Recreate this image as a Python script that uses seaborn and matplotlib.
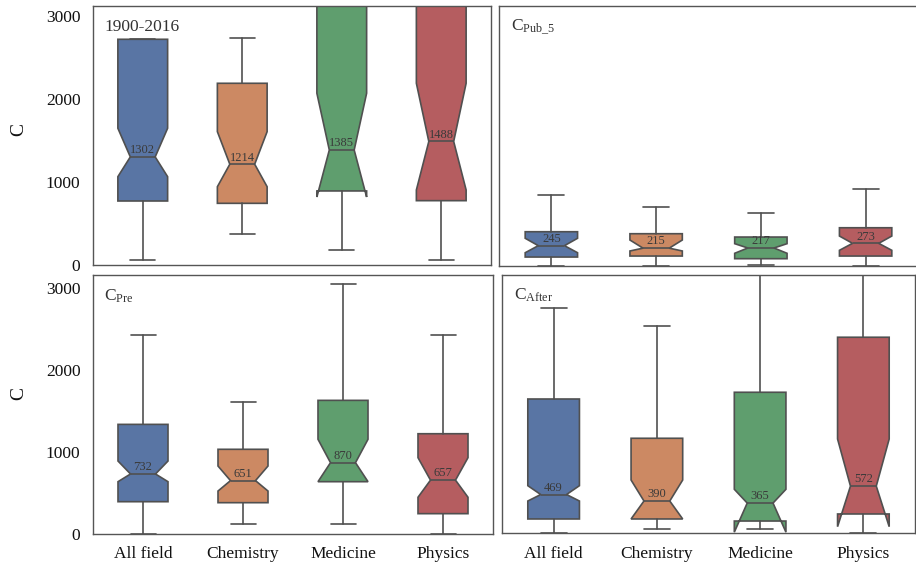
import matplotlib
matplotlib.use("Agg")
import matplotlib.pyplot as plt
import seaborn as sns

fields = ["All field", "Chemistry", "Medicine", "Physics"]

# Citations over the whole period 1900-2016
total_med = [1302, 1214, 1385, 1488]
total_q1 = [771, 743, 892, 775]
total_q3 = [2719, 2189, 3600, 3600]
total_cilo = [1064, 943, 819, 904]
total_cihi = [1647, 1606, 2069, 2189]
total_wlo = [60, 370, 181, 60]
total_whi = [2719, 2739, 5000, 5000]

# Citations within five years of publication
pub5_med = [245, 215, 217, 273]
pub5_q1 = [108, 120, 88, 120]
pub5_q3 = [413, 389, 349, 461]
pub5_cilo = [160, 181, 153, 189]
pub5_cihi = [334, 313, 269, 361]
pub5_wlo = [0, 0, 10, 0]
pub5_whi = [855, 711, 639, 931]

# Citations before the prize
pre_med = [732, 651, 870, 657]
pre_q1 = [394, 382, 638, 248]
pre_q3 = [1337, 1033, 1630, 1223]
pre_cilo = [638, 524, 638, 448]
pre_cihi = [890, 829, 1155, 931]
pre_wlo = [0, 118, 118, 0]
pre_whi = [2427, 1610, 3049, 2427]

# Citations after the prize
after_med = [469, 390, 365, 572]
after_q1 = [171, 171, 146, 232]
after_q3 = [1634, 1155, 1716, 2387]
after_cilo = [390, 171, 10, 77]
after_cihi = [577, 646, 533, 1146]
after_wlo = [0, 45, 45, 0]
after_whi = [2740, 2528, 5000, 5000]

sns.set_theme(style="white")
plt.rcParams["font.family"] = ["Liberation Serif", "DejaVu Serif"]
plt.rcParams["mathtext.fontset"] = "custom"
plt.rcParams["mathtext.rm"] = "Liberation Serif"
plt.rcParams["mathtext.it"] = "Liberation Serif:italic"

palette = [sns.desaturate(c, 0.75) for c in sns.color_palette("deep", 4)]

W, H = 916, 567
fig = plt.figure(figsize=(W / 100, H / 100), dpi=100)
fig.patch.set_facecolor("white")


def make_axes(left, top, right, bottom):
    return fig.add_axes([left / W, (H - bottom) / H, (right - left) / W, (bottom - top) / H])


edge = "#505050"


def draw_panel(ax, med, q1, q3, cilo, cihi, wlo, whi, ytop, title):
    stats = []
    for i, name in enumerate(fields):
        stats.append(dict(label=name, med=med[i], q1=q1[i], q3=q3[i],
                          cilo=cilo[i], cihi=cihi[i],
                          whislo=wlo[i], whishi=whi[i], fliers=[]))
    bp = ax.bxp(stats, positions=range(len(fields)), widths=0.5,
                patch_artist=True, shownotches=True, showfliers=False,
                boxprops=dict(edgecolor=edge, linewidth=1.2),
                whiskerprops=dict(color=edge, linewidth=1.2),
                capprops=dict(color=edge, linewidth=1.2),
                medianprops=dict(color=edge, linewidth=1.2))
    for patch, col in zip(bp["boxes"], palette):
        patch.set_facecolor(col)
    for i, m in enumerate(med):
        ax.annotate(f"{m}", xy=(i, m), xytext=(0, 0.5), textcoords="offset points",
                    ha="center", va="bottom", fontsize=9, color="#3a3a3a")
    ax.set_xlim(-0.5, len(fields) - 0.5)
    ax.set_ylim(0, ytop)
    ax.set_yticks([0, 1000, 2000, 3000])
    ax.tick_params(axis="both", length=0, labelsize=12.5, colors="#111111", pad=9)
    for sp in ax.spines.values():
        sp.set_color("#555555")
        sp.set_linewidth(1.0)
    ax.text(0.028, 0.903, title, transform=ax.transAxes, ha="left", va="baseline",
            fontsize=12.5, color="#333333")


ax_tl = make_axes(93, 6, 491, 265)
ax_tr = make_axes(499, 6, 918, 266)
ax_bl = make_axes(93, 275, 493, 534)
ax_br = make_axes(502, 275, 915, 533)

draw_panel(ax_tl, total_med, total_q1, total_q3, total_cilo, total_cihi,
           total_wlo, total_whi, 3120, "1900-2016")
draw_panel(ax_tr, pub5_med, pub5_q1, pub5_q3, pub5_cilo, pub5_cihi,
           pub5_wlo, pub5_whi, 3133, r"$\mathrm{C}_{\mathrm{Pub\_5}}$")
draw_panel(ax_bl, pre_med, pre_q1, pre_q3, pre_cilo, pre_cihi,
           pre_wlo, pre_whi, 3159, r"$\mathrm{C}_{\mathrm{Pre}}$")
draw_panel(ax_br, after_med, after_q1, after_q3, after_cilo, after_cihi,
           after_wlo, after_whi, 3146, r"$\mathrm{C}_{\mathrm{After}}$")

for ax in (ax_tl, ax_tr):
    ax.set_xticklabels([])
for ax in (ax_tr, ax_br):
    ax.set_yticklabels([])

for ax, yc in ((ax_tl, 0.525), (ax_bl, 0.544)):
    ax.set_ylabel("C", fontsize=14, color="#111111")
    ax.yaxis.set_label_coords(-0.165, yc)

fig.savefig("out.png", dpi=100, facecolor="white")
